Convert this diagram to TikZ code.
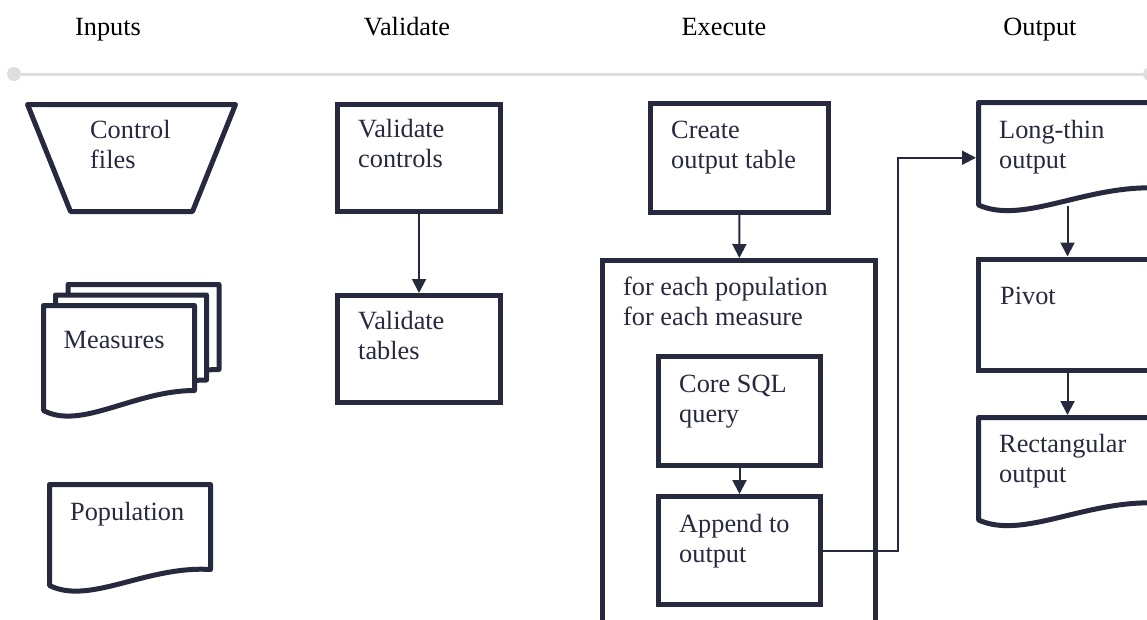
\documentclass[tikz,border=0pt]{standalone}
\usepackage{fontspec}
\setmainfont{Liberation Serif}
\usetikzlibrary{arrows.meta, calc, positioning}

\definecolor{ink}{HTML}{272A3E}
\definecolor{rail}{HTML}{DEDEDE}
\newcommand{\boxfont}{\fontsize{26.3}{30.5}\selectfont}

% wavy bottom of a document symbol: node name, rise at the right end
\newcommand{\wavydoc}[2]{%
  \draw[docline] (#1.north west) -- (#1.north east) -- ($(#1.south east)+(0,-#2)$)
    .. controls ($(#1.south west)!0.6!(#1.south east)+(0,-20)$)
       and ($(#1.south west)!0.25!(#1.south east)+(0,20)$) .. (#1.south west) -- cycle;}

\begin{document}
\begin{tikzpicture}[
    x=1pt, y=-1pt,
    box/.style = {shape=rectangle, draw=ink, line width=5pt, fill=white,
      minimum width=163pt, minimum height=107pt, inner sep=0pt},
    docnode/.style = {shape=rectangle, minimum width=178pt, minimum height=102.5pt,
      inner sep=0pt, outer sep=0pt},
    docline/.style = {draw=ink, line width=5pt, fill=white, line join=round},
    lbl/.style = {anchor=base west, align=left, font=\boxfont, text=ink, inner sep=0pt},
    head/.style = {anchor=base, font=\boxfont, text=black, inner sep=0pt},
    flow/.style = {draw=ink, line width=2pt, -{Triangle[length=14pt,width=14pt]}},
    dot/.style = {shape=circle, fill=rail, minimum size=14pt, inner sep=0pt}]

  \useasboundingbox (0,0) rectangle (1147,619);
  \begin{scope}
  \clip (0,0) rectangle (1147,619);

  % stage headings and rail
  \node[head] (hIn)  at (108,35)  {Inputs};
  \node[head] (hVal) at (407,35)  {Validate};
  \node[head] (hEx)  at (724,35)  {Execute};
  \node[head] (hOut) at (1040,35) {Output};

  \node[dot] (railL) at (14,74) {};
  \node[dot] (railR) at (1150,74) {};
  \draw[rail, line width=3pt] (railL) -- (railR);

  % inputs
  \node[docnode, minimum width=208pt, minimum height=107pt] (ctl) at (131.5,158) {};
  \draw[docline] (ctl.north west) -- (ctl.north east) -- ($(ctl.south east)+(-43,0)$)
    -- ($(ctl.south west)+(43,0)$) -- cycle;
  \node[lbl] (ctlT) at ([shift={(62.5,64)}]ctl.north west) {Control\\files};

  \node[docnode, minimum width=151pt, minimum height=105pt] (mBack) at (143.5,337) {};
  \node[docnode, minimum width=151pt, minimum height=105pt] (mMid) at (131,347.5) {};
  \node[docnode, minimum width=151pt, minimum height=105pt] (meas) at (119,358) {};
  \wavydoc{mBack}{20}
  \wavydoc{mMid}{20}
  \wavydoc{meas}{20}
  \node[lbl] (measT) at ([shift={(20,43)}]meas.north west) {Measures};

  \node[docnode, minimum width=161pt, minimum height=101pt] (pop) at (130,535) {};
  \wavydoc{pop}{16}
  \node[lbl] (popT) at ([shift={(20.5,35.5)}]pop.north west) {Population};

  % validate
  \node[box] (vc) at (419,158) {};
  \node[box] (vt) at (419,349) {};
  \node[lbl] (vcT) at ([shift={(23,65.5)}]vc.north west) {Validate\\controls};
  \node[lbl] (vtT) at ([shift={(23,66.5)}]vt.north west) {Validate\\tables};

  % execute
  \node[box, minimum width=178pt, minimum height=109pt] (cot) at (739.5,158) {};
  \node[box, minimum width=273pt, minimum height=440pt] (loop) at (739,480.5) {};
  \node[box, minimum width=162pt, minimum height=109pt] (core) at (739.5,411) {};
  \node[box, minimum width=162pt, minimum height=108pt] (app) at (739.5,550.5) {};
  \node[lbl] (cotT)  at ([shift={(23,67.5)}]cot.north west)  {Create\\output table};
  \node[lbl] (loopT) at ([shift={(23,67.5)}]loop.north west) {for each population\\for each measure};
  \node[lbl] (coreT) at ([shift={(23,68.5)}]core.north west) {Core SQL\\query};
  \node[lbl] (appT)  at ([shift={(23,68.5)}]app.north west)  {Append to\\output};

  % output
  \node[docnode] (lt) at (1067.5,153.75) {};
  \node[box, minimum width=178pt, minimum height=111pt] (pivot) at (1067.5,314.5) {};
  \node[docnode] (rt) at (1067.5,468.75) {};
  \wavydoc{lt}{17}
  \wavydoc{rt}{17}
  \node[lbl] (ltT)    at ([shift={(20.5,66)}]lt.north west) {Long-thin\\output};
  \node[lbl] (pivotT) at ([shift={(24,48)}]pivot.north west) {Pivot};
  \node[lbl] (rtT)    at ([shift={(20.5,65)}]rt.north west) {Rectangular\\output};

  % connectors
  \draw[flow] (vc) -- (vt);
  \draw[flow] (cot) -- (loop);
  \draw[flow] (core) -- (app);
  \draw[flow, shorten >=2.5pt] (app.east) -- ++(75,0) |- ([yshift=-4pt]lt.west);
  \draw[flow] ([yshift=-1pt]lt.south) -- (pivot.north);
  \draw[flow, shorten >=2.5pt] (pivot.south) -- (rt.north);
  \end{scope}
\end{tikzpicture}
\end{document}
